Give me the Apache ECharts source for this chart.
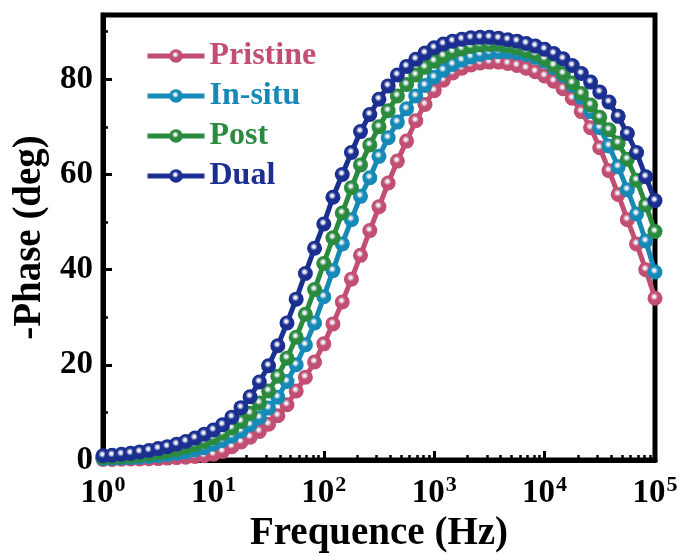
<!DOCTYPE html>
<html><head><meta charset="utf-8">
<script src="https://cdn.jsdelivr.net/npm/echarts@6/dist/echarts.min.js"></script>
<style>html,body{margin:0;padding:0;background:#fff}#c{width:683px;height:556px}</style>
</head><body><div id="c"></div>
<script>
const frequency = [
  1,1.21,1.47,1.78,2.15,2.61,3.16,3.83,4.64,5.62,6.81,8.25,
  10,12.1,14.7,17.8,21.5,26.1,31.6,38.3,46.4,56.2,68.1,82.5,
  100,121,147,178,215,261,316,383,464,562,681,825,
  1000,1210,1470,1780,2150,2610,3160,3830,4640,5620,6810,8250,
  10000,12100,14700,17800,21500,26100,31600,38300,46400,56200,68100,82500,
  100000];
const pristine = [0.1,0.1,0.15,0.2,0.2,0.25,0.3,0.4,0.5,0.6,0.75,0.9,
  1.2,1.8,2.8,3.8,4.8,6.0,7.5,9.3,11.6,14.5,17.4,20.6,
  24.4,28.6,33.2,38.0,43.0,48.2,53.2,58.2,62.8,67.0,71.3,74.7,
  77.6,79.8,81.3,82.3,83.0,83.4,83.6,83.6,83.3,82.9,82.3,81.6,
  80.7,79.6,78.0,76.0,73.2,69.8,65.6,60.8,55.8,50.5,45.4,40.0,
  34.0];
const inSitu = [0.3,0.35,0.4,0.5,0.6,0.75,0.9,1.1,1.4,1.7,2.1,2.6,
  3.3,4.1,5.0,6.1,7.4,8.9,10.9,13.2,16.5,20.0,24.2,28.8,
  34.3,39.8,45.4,50.5,55.4,59.3,63.8,67.7,71.0,73.8,76.5,78.7,
  80.4,81.9,83.1,84.0,84.7,85.2,85.6,85.8,85.8,85.6,85.2,84.6,
  83.8,82.4,80.8,78.7,76.2,73.2,69.8,66.0,61.6,56.8,51.7,46.0,
  39.5];
const post = [0.5,0.6,0.7,0.8,1.0,1.2,1.5,1.8,2.2,2.7,3.2,3.9,
  4.7,5.6,6.7,8.1,9.8,12.0,14.5,17.6,21.4,25.8,30.6,35.8,
  41.3,46.7,51.9,57.2,62.0,66.2,70.0,73.4,76.5,78.9,80.9,82.5,
  83.8,84.9,85.8,86.4,86.9,87.2,87.3,87.3,87.0,86.6,86.0,85.3,
  84.3,82.9,81.2,79.2,77.0,74.6,72.0,69.4,66.6,63.2,58.8,53.6,
  48.0];
const dual = [0.9,1.0,1.2,1.4,1.7,2.0,2.4,2.8,3.3,3.9,4.6,5.4,
  6.3,7.4,9.0,11.0,13.3,16.4,19.8,24.0,28.8,33.8,39.2,44.5,
  49.6,55.2,60.0,64.6,69.0,72.6,75.8,78.6,80.9,82.7,84.2,85.5,
  86.6,87.4,88.0,88.4,88.7,88.8,88.8,88.6,88.3,88.0,87.5,87.0,
  86.3,85.4,84.3,82.9,81.2,79.4,77.3,75.2,72.2,68.6,64.6,59.5,
  54.5];
const seriesNames = ['Pristine','In-situ','Post','Dual'];
const seriesValues = [pristine, inSitu, post, dual];
const colors = ['#C24F71','#1689B6','#2A8A3E','#1B2F91'];
const yMajorTicks = [0,20,40,60,80];
const yMinorTicks = [10,30,50,70,90];
const xDecades = [1,10,100,1000,10000,100000];
const xMinorMultipliers = [2,3,4,5,6,7,8,9];

const FONT = "'Liberation Serif','Times New Roman',serif";
const xMinorTicks = [];
xDecades.slice(0,5).forEach(d => xMinorMultipliers.forEach(m => xMinorTicks.push(d*m)));

function ball(c){
  return {type:'radial', x:0.45, y:0.4, r:0.6, colorStops:[
    {offset:0,color:'#ffffff'},{offset:0.14,color:'#e8eaf2'},{offset:0.42,color:c},{offset:1,color:c}]};
}

const chart = echarts.init(document.getElementById('c'), null, {renderer:'canvas'});
const axisTextBase = {fontFamily:FONT, fontWeight:'bold', color:'#000'};
chart.setOption({
  animation:false,
  backgroundColor:'#fff',
  grid:{left:103, top:15, right:28, bottom:96, containLabel:false, outerBoundsMode:'none',
        show:true, borderColor:'#000', borderWidth:5, backgroundColor:'transparent'},
  legend:{
    orient:'vertical', left:140, top:35, itemWidth:57, itemHeight:17, itemGap:8,
    data: seriesNames.map((n,i)=>({name:n, textStyle:{color:colors[i]}})),
    lineStyle:{width:5},
    textStyle:{fontFamily:FONT, fontWeight:'bold', fontSize:32}
  },
  xAxis:[{
    type:'log', logBase:10, min:1, max:100000, gridIndex:0,
    name:'Frequence (Hz)', nameLocation:'middle', nameGap:42,
    nameTextStyle:Object.assign({fontSize:39}, axisTextBase),
    axisLine:{show:true, lineStyle:{color:'#000', width:5}},
    axisTick:{show:true, inside:true, length:9, lineStyle:{color:'#000', width:3}, customValues:xDecades},
    axisLabel:{customValues:xDecades, margin:14,
      formatter: v => '{b|10}{s|' + Math.round(Math.log10(v)) + '}',
      rich:{b:Object.assign({fontSize:33, verticalAlign:'bottom'}, axisTextBase),
            s:Object.assign({fontSize:22, verticalAlign:'top', padding:[0,0,14,1]}, axisTextBase)}},
    splitLine:{show:false}, minorTick:{show:false}
  },{
    type:'log', logBase:10, min:1, max:100000, gridIndex:0, position:'bottom',
    axisLine:{show:false},
    axisTick:{show:true, inside:true, length:5, lineStyle:{color:'#000', width:2.5}, customValues:xMinorTicks},
    axisLabel:{show:false}, splitLine:{show:false}
  }],
  yAxis:[{
    type:'value', min:0, max:93.5, interval:20,
    name:'-Phase (deg)', nameLocation:'middle', nameGap:52, nameRotate:90,
    nameTextStyle:Object.assign({fontSize:39}, axisTextBase),
    axisLine:{show:true, lineStyle:{color:'#000', width:5}},
    axisTick:{show:true, inside:true, length:9, lineStyle:{color:'#000', width:3}, customValues:yMajorTicks},
    axisLabel:Object.assign({fontSize:33, margin:10, customValues:yMajorTicks}, axisTextBase),
    splitLine:{show:false}
  },{
    type:'value', min:0, max:93.5, position:'left',
    axisLine:{show:false},
    axisTick:{show:true, inside:true, length:5, lineStyle:{color:'#000', width:2.5}, customValues:yMinorTicks},
    axisLabel:{show:false}, splitLine:{show:false}
  }],
  series: seriesNames.map((n,i)=>({
    name:n, type:'line', xAxisIndex:0, yAxisIndex:0,
    data: frequency.map((f,k)=>[f, seriesValues[i][k]]),
    symbol:'circle', symbolSize:15, showAllSymbol:true, clip:true,
    lineStyle:{color:colors[i], width:5},
    itemStyle:{color:ball(colors[i]), borderWidth:0},
    z: 2+i
  }))
});
</script></body></html>
